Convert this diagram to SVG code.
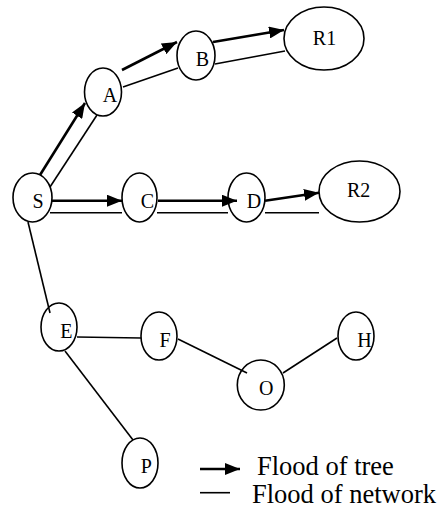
<svg xmlns="http://www.w3.org/2000/svg" width="440" height="509" viewBox="0 0 440 509">
<style>
.n{fill:none;stroke:#000;stroke-width:1.6}
.t{font-family:"Liberation Serif","Times New Roman",serif;font-size:20px;fill:#000;text-anchor:middle}
.lg{font-family:"Liberation Serif","Times New Roman",serif;font-size:26.5px;fill:#000}
.tree{stroke:#000;stroke-width:2.6;fill:none;marker-end:url(#ah)}
.net{stroke:#000;stroke-width:1.6;fill:none}
</style>
<defs>
<marker id="ah" markerUnits="userSpaceOnUse" markerWidth="15" markerHeight="12" refX="15" refY="6" orient="auto">
<path d="M0,0 L15,6 L0,12 z" fill="#000"/>
</marker>
</defs>
<rect width="440" height="509" fill="#fff"/>
<g id="connectors">
<line class="tree" x1="40" y1="175" x2="85" y2="103"/>
<line class="net" x1="50" y1="187" x2="97" y2="115"/>
<line class="tree" x1="122" y1="70" x2="177" y2="42"/>
<line class="net" x1="123" y1="87" x2="178" y2="68"/>
<line class="tree" x1="213" y1="42" x2="284" y2="30"/>
<line class="net" x1="215" y1="64" x2="285" y2="51"/>
<line class="tree" x1="52" y1="200.7" x2="122" y2="200.7"/>
<line class="net" x1="50" y1="212.7" x2="122" y2="212.7"/>
<line class="tree" x1="158" y1="200.7" x2="237" y2="200.7"/>
<line class="net" x1="157" y1="212.7" x2="228" y2="212.7"/>
<line class="tree" x1="265" y1="200.7" x2="319" y2="192.7"/>
<line class="net" x1="265" y1="212.7" x2="319" y2="212.7"/>
<line class="net" x1="28" y1="222" x2="50" y2="313"/>
<line class="net" x1="77" y1="337" x2="141" y2="338"/>
<line class="net" x1="178" y1="339" x2="247" y2="373"/>
<line class="net" x1="283" y1="373" x2="337" y2="338"/>
<line class="net" x1="65" y1="351" x2="133" y2="440"/>
</g>
<g id="S"><ellipse class="n" cx="32.5" cy="197.5" rx="19.5" ry="24.5"/><text class="t" x="38" y="207.7">S</text></g>
<g id="A"><ellipse class="n" cx="103" cy="92" rx="18.5" ry="24"/><text class="t" x="110" y="101.7">A</text></g>
<g id="B"><ellipse class="n" cx="196" cy="55.5" rx="19" ry="24.5"/><text class="t" x="202.5" y="65.5">B</text></g>
<g id="R1"><ellipse class="n" cx="324" cy="38.5" rx="40" ry="31.5"/><text class="t" x="324.5" y="45">R1</text></g>
<g id="C"><ellipse class="n" cx="139.5" cy="197.5" rx="17.5" ry="24.5"/><text class="t" x="147.5" y="207.7">C</text></g>
<g id="D"><ellipse class="n" cx="246.5" cy="197.5" rx="18.5" ry="24.5"/><text class="t" x="254" y="207.7">D</text></g>
<g id="R2"><ellipse class="n" cx="359.5" cy="191.5" rx="40.5" ry="30.5"/><text class="t" x="358.7" y="196.7">R2</text></g>
<g id="E"><ellipse class="n" cx="59" cy="327" rx="18" ry="24"/><text class="t" x="66.3" y="338.3">E</text></g>
<g id="F"><ellipse class="n" cx="159" cy="336" rx="18" ry="24"/><text class="t" x="165" y="347.3">F</text></g>
<g id="H"><ellipse class="n" cx="356" cy="336" rx="18" ry="24"/><text class="t" x="364.5" y="347.3">H</text></g>
<g id="O"><ellipse class="n" cx="260.8" cy="385" rx="23.5" ry="25"/><text class="t" x="266.3" y="395">O</text></g>
<g id="P"><ellipse class="n" cx="140" cy="463" rx="18" ry="25"/><text class="t" x="146.3" y="472.7">P</text></g>
<g id="legend">
<line class="tree" x1="200" y1="469" x2="240" y2="469"/>
<text class="lg" x="257" y="475">Flood of tree</text>
<line class="net" x1="200" y1="492.7" x2="230" y2="492.7"/>
<text class="lg" x="252" y="503">Flood of network</text>
</g>
</svg>
